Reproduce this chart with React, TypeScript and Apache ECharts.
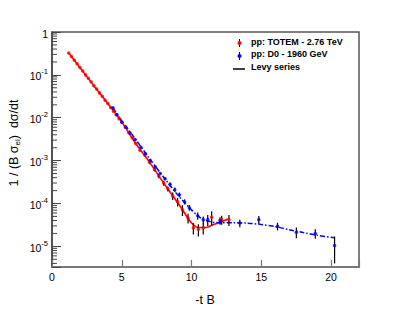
import React, { useEffect, useRef } from "react";
import * as echarts from "echarts";

// ---------- data ----------
// TOTEM 2.76 TeV data points: -tB, value, error
const redT = [1.2, 1.4, 1.6, 1.8, 2.0, 2.2, 2.4, 2.6, 2.8, 3.0, 3.2, 3.4, 3.6, 3.8, 4.0, 4.2, 4.4, 4.6, 4.8, 5.0, 5.25, 5.5, 5.75, 6.0, 6.3, 6.65, 7.0, 7.35, 7.65, 8.0, 8.3, 8.65, 9.0, 9.35, 9.75, 10.13, 10.49, 10.84, 11.44, 12.16, 12.68];
const redY = [3.24e-1, 2.69e-1, 2.19e-1, 1.82e-1, 1.48e-1, 1.23e-1, 1.0e-1, 8.3e-2, 6.9e-2, 5.6e-2, 4.7e-2, 3.8e-2, 3.16e-2, 2.57e-2, 2.14e-2, 1.74e-2, 1.41e-2, 1.17e-2, 9.5e-3, 7.9e-3, 6.0e-3, 4.5e-3, 3.4e-3, 2.5e-3, 1.75e-3, 1.35e-3, 9.1e-4, 6.2e-4, 4.4e-4, 3.0e-4, 2.2e-4, 1.5e-4, 1.1e-4, 7.1e-5, 4.6e-5, 2.7e-5, 2.5e-5, 2.7e-5, 4.8e-5, 4.2e-5, 4.2e-5];
const redErr = [0.005, 0.004, 0.003, 0.003, 0.002, 0.002, 0.002, 0.0015, 0.0012, 0.001, 0.0008, 0.0006, 0.0005, 0.0004, 0.0003, 0.00025, 0.0002, 0.00018, 0.00015, 0.00012, 0.0001, 0.00008, 0.00007, 0.00006, 0.00005, 0.00004, 0.00008, 0.00006, 0.00005, 0.00004, 0.00003, 0.00003, 0.000025, 0.00002, 0.000012, 0.000008, 0.000008, 0.000008, 0.000018, 0.00001, 0.000012];

// D0 1960 GeV data points
const blueT = [4.37, 4.66, 5.0, 5.3, 5.6, 5.95, 6.37, 6.7, 7.04, 7.4, 7.75, 8.1, 8.46, 8.8, 9.13, 9.5, 9.84, 10.44, 10.84, 11.16, 12.04, 13.46, 14.82, 16.16, 17.51, 18.87, 20.25];
const blueY = [1.7e-2, 1.17e-2, 8.0e-3, 6.0e-3, 4.4e-3, 3.1e-3, 2.04e-3, 1.45e-3, 1.0e-3, 7.2e-4, 5.0e-4, 3.8e-4, 2.8e-4, 2.1e-4, 1.6e-4, 1.1e-4, 8.0e-5, 5.2e-5, 4.2e-5, 4.2e-5, 4.0e-5, 3.5e-5, 4.2e-5, 2.95e-5, 2.14e-5, 2.0e-5, 1.05e-5];
const blueErr = [0.0008, 0.0005, 0.0003, 0.0002, 0.00015, 0.0001, 0.00008, 0.00006, 0.00005, 0.00004, 0.00003, 0.00003, 0.00003, 0.000025, 0.00002, 0.000015, 0.000012, 0.00001, 0.000008, 0.000012, 0.000008, 0.000007, 0.000009, 0.000006, 0.000006, 0.000005, 0.0000065];

// Levy series fits
const redFitT = [1.2, 2, 3, 4, 5, 6, 7, 8, 9, 9.5, 10, 10.5, 11, 11.5, 12, 12.6];
const redFitY = [3.24e-1, 1.48e-1, 5.6e-2, 2.14e-2, 7.9e-3, 2.5e-3, 9.1e-4, 3.0e-4, 1.05e-4, 6.0e-5, 3.5e-5, 2.75e-5, 2.75e-5, 3.16e-5, 3.6e-5, 4.35e-5];
const blueFitT = [4.37, 5, 6, 7, 8, 9, 10, 10.5, 11, 12, 13, 14, 15, 16, 17, 18, 19, 20.25];
const blueFitY = [1.7e-2, 8.5e-3, 3.1e-3, 1.1e-3, 4.1e-4, 1.6e-4, 7.1e-5, 5.0e-5, 4.0e-5, 3.55e-5, 3.55e-5, 3.47e-5, 3.24e-5, 2.88e-5, 2.45e-5, 2.1e-5, 1.82e-5, 1.58e-5];

const xTicks = [0, 5, 10, 15, 20];
const yDecades = [-5, -4, -3, -2, -1, 0];

const Y_MIN = 3.3e-6;
const Y_MAX = 1;
const FONT = "Liberation Sans, Arial, Helvetica, sans-serif";

export default function App() {
  const ref = useRef<HTMLDivElement>(null);

  useEffect(() => {
    if (!ref.current) return;
    const chart = echarts.init(ref.current, null, { renderer: "svg" });

    // minor ticks of the log axis
    const minor: number[][] = [];
    for (let n = -6; n <= -1; n++) {
      for (let k = 2; k <= 9; k++) {
        const v = k * Math.pow(10, n);
        if (v >= Y_MIN && v <= Y_MAX) minor.push([0, v]);
      }
    }

    const redPts = redT.map((t, i) => [t, redY[i], redErr[i]]);
    const bluePts = blueT.map((t, i) => [t, blueY[i], blueErr[i]]);

    const errRender = (params: any, api: any) => {
      const t = api.value(0);
      const y = api.value(1);
      const e = api.value(2);
      const top = api.coord([t, y + e]);
      const bot = api.coord([t, Math.max(y - e, Y_MIN)]);
      return {
        type: "line",
        shape: { x1: top[0], y1: top[1], x2: bot[0], y2: bot[1] },
        style: { stroke: "#000", lineWidth: 1.2 },
      };
    };

    const supRich = {
      base: { fontSize: 10.5, fontFamily: FONT, color: "#000", verticalAlign: "bottom", lineHeight: 14 },
      sup: { fontSize: 7.5, fontFamily: FONT, color: "#000", verticalAlign: "top", lineHeight: 14, padding: [0, 0, 6, 0] },
    };

    chart.setOption({
      animation: false,
      backgroundColor: "#fff",
      grid: {
        left: 52,
        top: 32,
        right: 40,
        bottom: 47,
        show: true,
        borderColor: "#555",
        borderWidth: 1.5,
      },
      xAxis: {
        type: "value",
        min: 0,
        max: 22,
        interval: 5,
        splitLine: { show: false },
        axisLine: { show: true, lineStyle: { color: "#777", width: 1.5 } },
        axisTick: { show: true, inside: true, length: 7, lineStyle: { color: "#777", width: 1.2 } },
        axisLabel: {
          color: "#000",
          fontSize: 10.5,
          fontFamily: FONT,
          margin: 4,
          formatter: (v: number) => (xTicks.indexOf(v) >= 0 ? String(v) : ""),
        },
      },
      yAxis: {
        type: "log",
        min: Y_MIN,
        max: Y_MAX,
        logBase: 10,
        splitLine: { show: false },
        axisLine: { show: true, lineStyle: { color: "#444", width: 1.5 } },
        axisTick: { show: true, inside: true, length: 9, lineStyle: { color: "#444", width: 1 } },
        minorTick: { show: false },
        axisLabel: {
          margin: 4,
          formatter: (v: number) => {
            const e = Math.round(Math.log10(v));
            if (Math.abs(Math.log10(v) - e) > 1e-6 || yDecades.indexOf(e) < 0) return "";
            if (e === 0) return "{base|1}";
            return "{base|10}{sup|" + e + "}";
          },
          rich: supRich,
        },
      },
      graphic: [
        {
          type: "text",
          x: 14,
          y: 143,
          rotation: Math.PI / 2,
          style: {
            text: "1 / (B σ{sub|el})  dσ/dt",
            font: "12.5px " + FONT,
            fill: "#000",
            align: "center",
            verticalAlign: "middle",
            rich: {
              sub: { fontSize: 8, fontFamily: FONT, fill: "#000", padding: [6, 0, 0, 0] },
            },
          },
        },
        {
          type: "text",
          x: 205,
          y: 300,
          style: { text: "-t B", font: "12.5px " + FONT, fill: "#000", align: "center", verticalAlign: "middle" },
        },
        // legend
        { type: "line", shape: { x1: 239.5, y1: 39, x2: 239.5, y2: 47 }, style: { stroke: "#000", lineWidth: 1 } },
        { type: "circle", shape: { cx: 239.5, cy: 43, r: 2 }, style: { fill: "#ff0000" } },
        { type: "text", x: 251, y: 42, style: { text: "pp: TOTEM - 2.76 TeV", font: "bold 9px " + FONT, fill: "#000", verticalAlign: "middle" } },
        { type: "line", shape: { x1: 239.5, y1: 52, x2: 239.5, y2: 60 }, style: { stroke: "#000", lineWidth: 1 } },
        { type: "circle", shape: { cx: 239.5, cy: 56, r: 2 }, style: { fill: "#0000ff" } },
        { type: "text", x: 251, y: 54, style: { text: "pp: D0 - 1960 GeV", font: "bold 9px " + FONT, fill: "#000", verticalAlign: "middle" } },
        { type: "line", shape: { x1: 233, y1: 69, x2: 245, y2: 69 }, style: { stroke: "#000", lineWidth: 1.5 } },
        { type: "text", x: 251, y: 67, style: { text: "Levy series", font: "bold 9px " + FONT, fill: "#000", verticalAlign: "middle" } },
      ],
      series: [
        {
          type: "custom",
          name: "minorTicks",
          data: minor,
          silent: true,
          renderItem: (params: any, api: any) => {
            const p = api.coord([api.value(0), api.value(1)]);
            return {
              type: "line",
              shape: { x1: p[0], y1: p[1], x2: p[0] + 5, y2: p[1] },
              style: { stroke: "#444", lineWidth: 1 },
            };
          },
        },
        {
          type: "line",
          name: "redFit",
          data: redFitT.map((t, i) => [t, redFitY[i]]),
          showSymbol: false,
          smooth: 0.3,
          lineStyle: { color: "#ff0000", width: 1.6 },
          z: 3,
        },
        {
          type: "line",
          name: "blueFit",
          data: blueFitT.map((t, i) => [t, blueFitY[i]]),
          showSymbol: false,
          smooth: 0.3,
          lineStyle: { color: "#0000ff", width: 1.5, type: [5, 2, 1.5, 2] },
          z: 3,
        },
        {
          type: "custom",
          name: "redErr",
          data: redPts,
          renderItem: errRender,
          clip: true,
          z: 4,
        },
        {
          type: "custom",
          name: "blueErr",
          data: bluePts,
          renderItem: errRender,
          clip: true,
          z: 4,
        },
        {
          type: "scatter",
          name: "pp: TOTEM - 2.76 TeV",
          data: redPts.map((p) => [p[0], p[1]]),
          symbol: "circle",
          symbolSize: 3.5,
          itemStyle: { color: "#ff0000" },
          z: 5,
        },
        {
          type: "scatter",
          name: "pp: D0 - 1960 GeV",
          data: bluePts.map((p) => [p[0], p[1]]),
          symbol: "circle",
          symbolSize: 3.5,
          itemStyle: { color: "#0000ff" },
          z: 5,
        },
      ],
    });

    return () => chart.dispose();
  }, []);

  return (
    <div
      ref={ref}
      style={{ position: "fixed", left: 0, top: 0, width: 399, height: 314, background: "#fff" }}
    />
  );
}
